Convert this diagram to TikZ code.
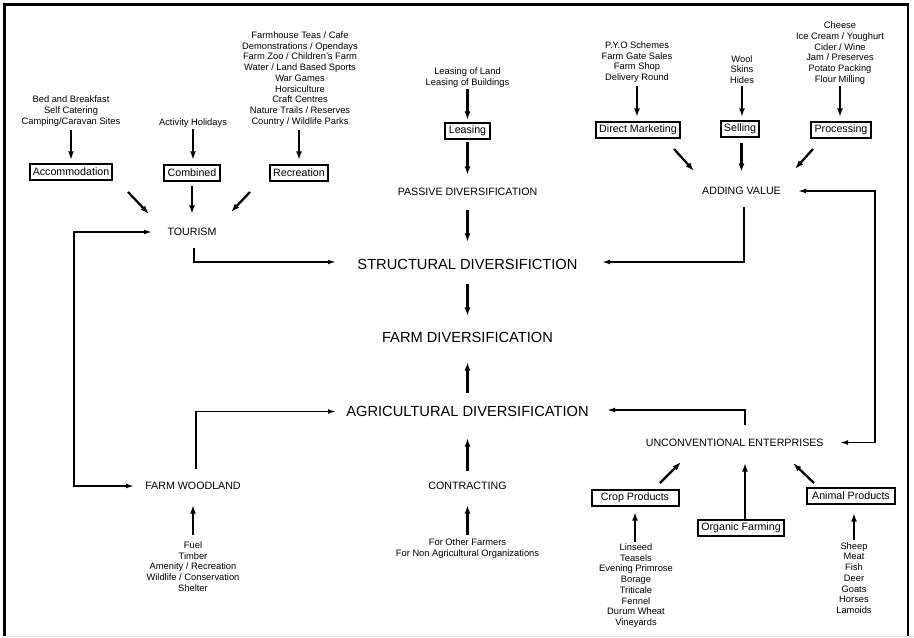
\documentclass[tikz,border=0pt]{standalone}
\usepackage{fontspec}
\setmainfont{Liberation Sans}
\usetikzlibrary{arrows.meta,calc}
\begin{document}
\begin{tikzpicture}[x=0.75pt,y=-0.75pt,
  list/.style={inner sep=0pt, align=center, font=\fontsize{7}{8.06}\selectfont},
  caption/.style={inner sep=0pt, font=\fontsize{8}{9.6}\selectfont},
  headline/.style={inner sep=0pt, font=\fontsize{11}{13}\selectfont},
  tag/.style={draw, line width=1.5pt, inner xsep=2.4pt, inner ysep=0pt,
              minimum height=12pt, font=\fontsize{8}{9.6}\selectfont},
  feed/.style={line width=1.7pt, -{Latex[length=6.5pt,width=4.5pt]}},
  link/.style={line width=1.1pt, -{Latex[length=6pt,width=3.6pt]}},
  twoway/.style={line width=1.1pt,
                 {Latex[length=6pt,width=3.6pt]}-{Latex[length=6pt,width=3.6pt]}},
]
\useasboundingbox (0,0) rectangle (914,637);

% outer frame
\draw[line width=1.6pt] (4.5,636) -- (4.5,4.5) -- (908,4.5) -- (908,636);
\draw[black!12, line width=0.75pt] (4.5,636.5) -- (914,636.5);

% ---------- tourism branch ----------
\node[list] (bb) at (71,111) {Bed and Breakfast\\Self Catering\\Camping/Caravan Sites};
\node[tag, minimum width=61.5pt] (acc) at (71,172) {Accommodation};
\node[list] (act) at (193,123) {Activity Holidays};
\node[tag, minimum width=41.25pt] (comb) at (192,173) {Combined};
\node[list] (rec) at (300,79) {Farmhouse Teas / Cafe\\Demonstrations / Opendays\\Farm Zoo / Children's Farm\\Water / Land Based Sports\\War Games\\Horsiculture\\Craft Centres\\Nature Trails / Reserves\\Country / Wildlife Parks};
\node[tag, minimum width=42.75pt] (recb) at (299,172.5) {Recreation};
\node[caption] (tour) at (192,232) {TOURISM};

\draw[feed] ($(bb)+(0,19)$) -- ($(acc)+(0,-12)$);
\draw[feed] ($(act |- comb)+(0,-44)$) -- ($(act |- comb)+(0,-13)$);
\draw[feed] ($(recb)+(0,-42.5)$) -- ($(recb)+(0,-12.5)$);
\draw[feed] ($(acc)+(57,20)$) -- ($(tour)+(-43,-18)$);
\draw[feed] ($(comb)+(0,13)$) -- ($(tour)+(0,-18)$);
\draw[feed] ($(recb)+(-49,19.5)$) -- ($(tour)+(39,-20)$);

% ---------- passive branch ----------
\node[list] (lease) at (467.5,77.5) {Leasing of Land\\Leasing of Buildings};
\node[tag, minimum width=33.75pt] (leasing) at (467.5,131) {Leasing};
\node[caption] (passive) at (467.5,192) {PASSIVE DIVERSIFICATION};

\draw[feed] ($(lease)+(0,11.5)$) -- ($(leasing)+(0,-11)$);
\draw[feed] ($(leasing)+(0,11)$) -- ($(passive)+(0,-17)$);

% ---------- adding value branch ----------
\node[list] (pyo) at (637,62) {P.Y.O Schemes\\Farm Gate Sales\\Farm Shop\\Delivery Round};
\node[tag, minimum width=60.75pt] (dm) at (638,129.5) {Direct Marketing};
\node[list] (wool) at (742,69.5) {Wool\\Skins\\Hides};
\node[tag, minimum width=21.75pt] (sell) at (740,128.5) {Selling};
\node[list] (cheese) at (840,53) {Cheese\\Ice Cream / Youghurt\\Cider / Wine\\Jam / Preserves\\Potato Packing\\Flour Milling};
\node[tag, minimum width=43.5pt] (proc) at (841,130) {Processing};
\node[caption] (adding) at (741.5,190.5) {ADDING VALUE};

\draw[feed] ($(pyo)+(0,24)$) -- ($(pyo |- dm)+(0,-12.5)$);
\draw[feed] ($(wool)+(0,16.5)$) -- ($(wool |- sell)+(0,-11.5)$);
\draw[feed] ($(cheese |- proc)+(0,-44)$) -- ($(cheese |- proc)+(0,-13)$);
\draw[feed] ($(dm)+(36,19.5)$) -- ($(adding)+(-47.5,-19.5)$);
\draw[feed] ($(sell)+(1.5,14.5)$) -- ($(sell |- adding)+(1.5,-18.5)$);
\draw[feed] ($(proc)+(-28,19)$) -- ($(adding)+(53.5,-21.5)$);

% ---------- centre column ----------
\node[headline] (struct) at (467.5,264) {STRUCTURAL DIVERSIFICTION};
\node[headline] (farm) at (467.5,337) {FARM DIVERSIFICATION};
\node[headline] (agri) at (467.5,411.5) {AGRICULTURAL DIVERSIFICATION};

\draw[feed] ($(passive)+(0,18)$) -- ($(struct)+(0,-22)$);
\draw[feed] ($(struct)+(0,20)$) -- ($(farm)+(0,-21)$);
\draw[feed] ($(agri)+(0,-18.5)$) -- ($(farm)+(0,25)$);

\draw[link] ($(tour)+(2,16)$) |- ($(struct)+(-131.5,-2)$);
\draw[link] ($(adding)+(2.5,16.5)$) |- ($(struct)+(134.5,-2)$);

% ---------- agricultural side ----------
\node[caption] (wood) at (193,486) {FARM WOODLAND};
\node[list] (fuel) at (193,566.5) {Fuel\\Timber\\Amenity / Recreation\\Wildlife / Conservation\\Shelter};
\node[caption] (contr) at (467.5,485.5) {CONTRACTING};
\node[list] (other) at (467.5,548.5) {For Other Farmers\\For Non Agricultural Organizations};
\node[caption] (unconv) at (734.7,442.5) {UNCONVENTIONAL ENTERPRISES};
\node[tag, minimum width=65.25pt] (crop) at (635,497.5) {Crop Products};
\node[tag, minimum width=61.5pt] (org) at (741,528) {Organic Farming};
\node[tag, minimum width=66pt] (anim) at (851,496) {Animal Products};
\node[list] (croplist) at (636,585.5) {Linseed\\Teasels\\Evening Primrose\\Borage\\Triticale\\Fennel\\Durum Wheat\\Vineyards};
\node[list] (animlist) at (854,578) {Sheep\\Meat\\Fish\\Deer\\Goats\\Horses\\Lamoids};

\draw[feed] ($(fuel)+(0,-31.5)$) -- ($(wood)+(0,19)$);
\draw[feed] ($(other)+(0,-13.5)$) -- ($(contr)+(0,19.5)$);
\draw[feed] ($(contr)+(0,-14.5)$) -- ($(agri)+(0,26.5)$);
\draw[feed] ($(croplist)+(-1,-43.5)$) -- ($(croplist |- crop)+(-1,14.5)$);
\draw[feed] ($(animlist)+(0,-38)$) -- ($(animlist |- anim)+(0,17)$);
\draw[feed] ($(crop)+(25,-14.5)$) -- ($(unconv)+(-53.7,19.5)$);
\draw[feed] ($(org)+(4,-9.5)$) -- ($(org |- unconv)+(4,20.5)$);
\draw[feed] ($(anim)+(-37,-13)$) -- ($(unconv)+(58.3,20.5)$);

\draw[link] ($(wood)+(3,-17)$) |- ($(agri)+(-131.5,0)$);
\draw[link] ($(unconv)+(10.3,-17.5)$) |- ($(agri)+(139.5,-1.5)$);

% ---------- two-way loops ----------
\draw[twoway] ($(tour)+(-40,0)$) -- ++(-78,0) |- ($(wood)+(-59,0)$);
\draw[twoway] ($(adding)+(56.5,0.5)$) -- ++(77,0) |- ($(unconv)+(105.3,0)$);

\end{tikzpicture}
\end{document}
